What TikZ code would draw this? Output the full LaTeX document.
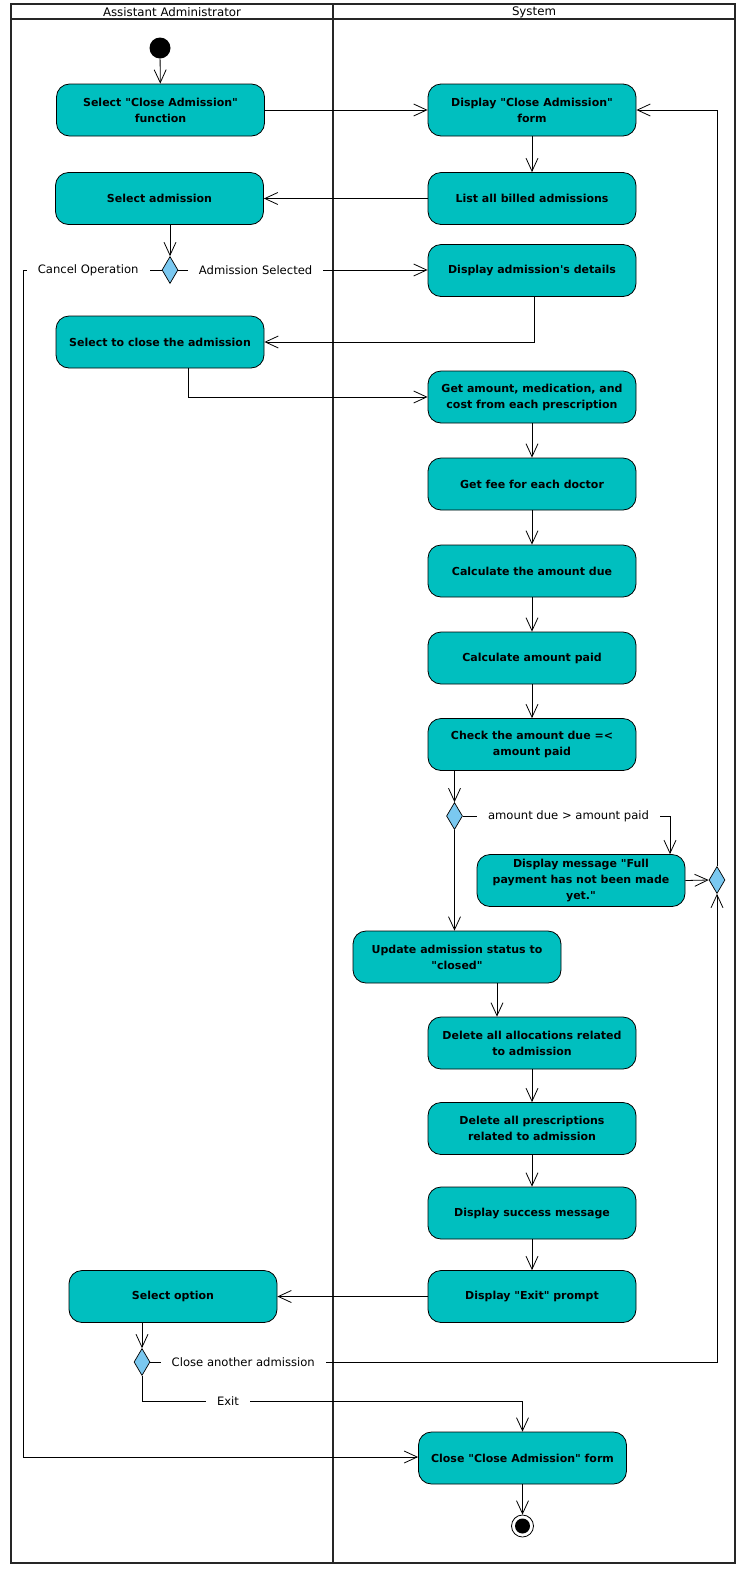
\documentclass[tikz,border=0pt]{standalone}
\usepackage{fontspec}
\setmainfont{DejaVu Sans}
\usetikzlibrary{arrows.meta,shapes.geometric,calc}
\definecolor{actfill}{RGB}{0,191,191}
\definecolor{decfill}{RGB}{122,200,240}
\newcommand{\dq}{\textquotedbl}
\begin{document}
\begin{tikzpicture}[x=1pt,y=-1pt,
  act/.style={draw=black, line width=0.8pt, fill=actfill, rounded corners=13pt,
    minimum width=208pt, minimum height=52pt, align=center,
    font=\fontsize{11}{16}\selectfont\bfseries, inner sep=2pt},
  dec/.style={draw=black, line width=0.7pt, fill=decfill, diamond,
    minimum width=16pt, minimum height=27pt, inner sep=0pt},
  arr/.style={line width=0.8pt, -{Straight Barb[length=13pt,width=12pt,line width=0.8pt]}},
  lbl/.style={fill=white, font=\fontsize{11.6}{13}\selectfont, inner xsep=11pt, inner ysep=1pt},
  hdr/.style={font=\fontsize{11.8}{13}\selectfont, inner sep=0pt},
]
\useasboundingbox (0,0) rectangle (738,1575);
% frame
\draw[line width=1.6pt, draw=black!85] (11,4) rectangle (735,1563);
\draw[line width=1.2pt, draw=black!85] (11,19) -- (735,19);
\draw[line width=2pt, draw=black!85] (333,4) -- (333,1563);
\node[hdr] (hA) at (172,12) {Assistant Administrator};
\node[hdr] (hS) at (534,12) {System};

% nodes
\node[circle, fill=black, minimum size=21pt, inner sep=0pt] (start) at (160,48) {};
\node[act] (cafunc) at (160.5,110) {Select \dq Close Admission\dq\\function};
\node[act] (caform) at (532,110) {Display \dq Close Admission\dq\\form};
\node[act] (list) at (532,198.5) {List all billed admissions};
\node[act] (seladm) at (159.5,198.5) {Select admission};
\node[dec] (d1) at (170,270) {};
\node[act] (details) at (532,270.5) {Display admission\textquotesingle s details};
\node[act] (selclose) at (160,342) {Select to close the admission};
\node[act] (getamt) at (532,397) {Get amount, medication, and\\cost from each prescription};
\node[act] (fee) at (532,484) {Get fee for each doctor};
\node[act] (due) at (532,571) {Calculate the amount due};
\node[act] (paid) at (532,658) {Calculate amount paid};
\node[act] (check) at (532,744.5) {Check the amount due =<\\amount paid};
\node[dec] (d2) at (454.5,816) {};
\node[act] (msg) at (581,880.5) {Display message \dq Full\\payment has not been made\\yet.\dq};
\node[dec] (merge) at (717,880) {};
\node[act] (update) at (457,957) {Update admission status to\\\dq closed\dq};
\node[act] (delalloc) at (532,1043) {Delete all allocations related\\to admission};
\node[act] (delpresc) at (532,1128.5) {Delete all prescriptions\\related to admission};
\node[act] (success) at (532,1213) {Display success message};
\node[act] (exitp) at (532,1296.5) {Display \dq Exit\dq\ prompt};
\node[act] (selopt) at (173,1296.5) {Select option};
\node[dec] (d3) at (142,1362) {};
\node[act] (closeform) at (522.5,1458) {Close \dq Close Admission\dq\ form};
\node[circle, draw=black, line width=0.8pt, fill=white, minimum size=22pt, inner sep=0pt] (end) at (522.5,1526) {};
\fill[black] (end.center) circle (7.5pt);

% connectors
\draw[arr] (start) -- (cafunc);
\draw[arr] (cafunc) -- (caform);
\draw[arr] (caform) -- (list);
\draw[arr] (list) -- (seladm);
\draw[arr] (seladm.south -| d1) -- (d1.north);
\draw[arr] (d1.east) -- node[lbl,pos=0.31]{Admission Selected} (d1 -| details.west);
\coordinate (c1) at (23,270);
\coordinate (c2) at (23,1457);
\draw[arr] (d1.west) -- node[lbl,pos=0.53]{Cancel Operation} (c1) -- (c2) -- (c2 -| closeform.west);
\draw[arr] ([xshift=2.5pt]details.south) |- (selclose.east);
\draw[arr] ([xshift=28pt]selclose.south) |- (getamt.west);
\draw[arr] (getamt) -- (fee);
\draw[arr] (fee) -- (due);
\draw[arr] (due) -- (paid);
\draw[arr] (paid) -- (check);
\draw[arr] (check.south -| d2) -- (d2.north);
\draw[arr] (d2.south) -- (d2 |- update.north);
\coordinate (k1) at (670,816);
\draw[arr] (d2.east) -- node[lbl,pos=0.51]{amount due > amount paid} (k1) -- (k1 |- msg.north);
\draw[arr] (msg.east) -- (merge.west);
\draw[arr] (merge.north) -- (merge |- caform) -- (caform.east);
\coordinate (u1) at ([xshift=40pt]update.south);
\draw[arr] (u1) -- (u1 |- delalloc.north);
\draw[arr] (delalloc) -- (delpresc);
\draw[arr] (delpresc) -- (success);
\draw[arr] (success) -- (exitp);
\draw[arr] (exitp) -- (selopt);
\draw[arr] (selopt.south -| d3) -- (d3.north);
\coordinate (k3) at (142,1401);
\draw[arr] (d3.south) -- (k3) -- node[lbl,pos=0.226]{Exit} (k3 -| closeform) -- (closeform.north);
\draw[arr] (d3.east) -- node[lbl,pos=0.164]{Close another admission} (d3 -| merge) -- (merge.south);
\draw[arr] (closeform) -- (end);
\end{tikzpicture}
\end{document}
